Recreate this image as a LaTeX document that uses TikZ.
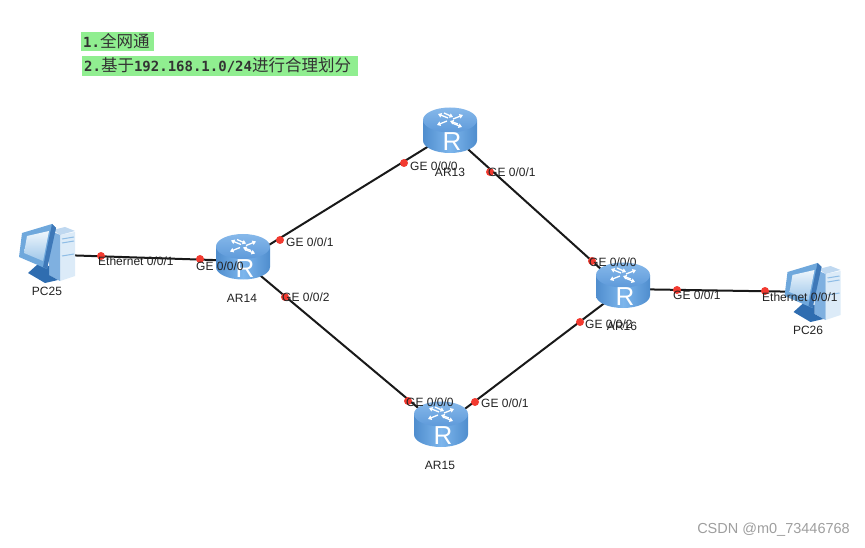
\documentclass[tikz,border=0pt]{standalone}
\usepackage{fontspec}
\setmainfont{Liberation Sans}
\newfontfamily\cjk{Noto Sans CJK SC}
\newfontfamily\mono{DejaVu Sans Mono}
\usetikzlibrary{arrows.meta}
\definecolor{hl}{HTML}{90EE90}
\definecolor{dotred}{HTML}{F23A30}
\definecolor{txt}{HTML}{222222}
\definecolor{bodyedge}{HTML}{4F8DCE}
\definecolor{bodymid}{HTML}{7DB6EC}
\definecolor{toplight}{HTML}{86B8EA}
\definecolor{topdark}{HTML}{5E9ADA}
\definecolor{pcframe}{HTML}{6FA8DC}
\definecolor{pcedge}{HTML}{3E78B8}
\definecolor{pcscrtop}{HTML}{EEF6FC}
\definecolor{pcscrbot}{HTML}{9FC7EA}
\definecolor{pcfront}{HTML}{DCEBF8}
\definecolor{pctop}{HTML}{BFD8F0}
\definecolor{pcside}{HTML}{7FB0E0}
\definecolor{pcbase}{HTML}{2F6DB0}
\definecolor{pcslot}{HTML}{8FBDE6}
\tikzset{
  link/.style={draw=black!90, line width=2pt},
  portdot/.style={circle, fill=dotred, inner sep=0pt, minimum size=8pt},
  lbl/.style={text=txt, font=\fontsize{12}{12}\selectfont, inner sep=0pt, anchor=west},
  devlbl/.style={text=txt, font=\fontsize{12}{12}\selectfont, inner sep=0pt},
  note/.style={text=black!80, inner sep=0pt, anchor=west},
  highlight/.style={fill=hl, draw=none},
  arrowmark/.style={draw=white, line width=1.3pt, -{Triangle[length=3.5pt,width=4.5pt]}},
  router/.pic={
    \path[left color=bodyedge, right color=bodyedge, middle color=bodymid]
      (-27,-11) -- (-27,9.5) arc[start angle=180, end angle=0, x radius=27, y radius=12.5]
      -- (27,-11) -- cycle;
    \path[top color=toplight, bottom color=topdark]
      (0,-11) ellipse[x radius=27, y radius=12.5];
    \draw[arrowmark] (-2,-13) -- (-12,-17);
    \draw[arrowmark] (-6,-18) -- (3,-14);
    \draw[arrowmark] (3,-12) -- (13,-16);
    \draw[arrowmark] (8,-7) -- (0,-10);
    \draw[arrowmark] (-3,-10) -- (-13,-6);
    \draw[arrowmark] (2,-8) -- (12,-4);
    \node[text=white, font=\fontsize{26}{26}\selectfont, inner sep=0pt] at (2,11) {R};
  },
  pcicon/.pic={
    \fill[pcfront] (14,-16) -- (29,-19) -- (29,25) -- (14,30) -- cycle;
    \fill[pctop] (7,-21) -- (19,-24) -- (29,-20) -- (14,-16) -- cycle;
    \fill[pcside] (3,-21) -- (14,-16) -- (14,30) -- (3,24) -- cycle;
    \draw[pcslot, line width=1pt] (16,-12) -- (28,-14) (16,-8) -- (28,-10) (16,5) -- (28,3);
    \fill[pcbase] (-18,22) -- (-8,13) -- (3,15) -- (3,24) -- (12,29) -- (-1,32) -- cycle;
    \fill[pcframe] (-24,-18) -- (6,-27) -- (10,-23) -- (1,18) -- (-27,6) -- cycle;
    \fill[pcedge] (6,-27) -- (10,-23) -- (1,18) -- (-3,16) -- cycle;
    \path[top color=pcscrtop, bottom color=pcscrbot]
      (-19,-15) -- (3,-20) -- (-3,10) -- (-22,2) -- cycle;
  },
}
\begin{document}
\begin{tikzpicture}[x=1pt,y=-1pt]
\useasboundingbox (0,0) rectangle (865,548);
\coordinate (ar13) at (450,133);
\coordinate (ar14) at (243,261);
\coordinate (ar15) at (441,427);
\coordinate (ar16) at (623,289);
\coordinate (pc25) at (46,254.5);
\coordinate (pc26) at (811.5,292);
\draw[link] (pc25) -- (ar14);
\draw[link] (ar14) -- (ar13);
\draw[link] (ar13) -- (ar16);
\draw[link] (ar14) -- (ar15);
\draw[link] (ar15) -- (ar16);
\draw[link] (ar16) -- (pc26);
\pic at (450,131) {router};
\pic at (243,257.5) {router};
\pic at (441,425) {router};
\pic at (623,286) {router};
\pic at (46,251) {pcicon};
\pic at (811.5,290) {pcicon};
\foreach \n/\p in {d1/{404,163},d2/{490,172},d3/{280,240},d4/{285,297},d5/{200,259},d6/{101,256},d7/{592,261},d8/{677,290},d9/{765,291},d10/{580,322},d11/{408,401},d12/{475,402}}
  \node[portdot] (\n) at (\p) {};
\fill[highlight] (81,32) rectangle (154,51);
\fill[highlight] (82,56) rectangle (358,76);
\node[note] (t1) at (83,41) {\fontsize{14}{14}\mono\bfseries 1.\fontsize{16.5}{16.5}\cjk\mdseries 全网通};
\node[note] (t2) at (84,65) {\fontsize{14}{14}\mono\bfseries 2.\fontsize{16.5}{16.5}\cjk\mdseries 基于\fontsize{14}{14}\mono\bfseries 192.168.1.0/24\fontsize{16.5}{16.5}\cjk\mdseries 进行合理划分};
\node[lbl] (l1) at (410,166) {GE 0/0/0};
\node[lbl] (l2) at (488,172) {GE 0/0/1};
\node[lbl] (l3) at (286,242) {GE 0/0/1};
\node[lbl] (l4) at (282,297) {GE 0/0/2};
\node[lbl] (l5) at (196,266) {GE 0/0/0};
\node[lbl] (l6) at (98,261) {Ethernet 0/0/1};
\node[lbl] (l7) at (589,262) {GE 0/0/0};
\node[lbl] (l8) at (673,295) {GE 0/0/1};
\node[lbl] (l9) at (585,324) {GE 0/0/2};
\node[lbl] (l10) at (762,297) {Ethernet 0/0/1};
\node[lbl] (l11) at (406,402) {GE 0/0/0};
\node[lbl] (l12) at (481,403) {GE 0/0/1};
\node[devlbl] (n13) at (450,172) {AR13};
\node[devlbl] (n14) at (242,298) {AR14};
\node[devlbl] (n15) at (440,465) {AR15};
\node[devlbl] (n16) at (622,326) {AR16};
\node[devlbl] (n25) at (47,291) {PC25};
\node[devlbl] (n26) at (808,330) {PC26};
\node[text=black!38, font=\fontsize{14.5}{14.5}\selectfont, inner sep=0pt, anchor=east] (wm) at (850,530) {CSDN @m0\_73446768};
\end{tikzpicture}
\end{document}
